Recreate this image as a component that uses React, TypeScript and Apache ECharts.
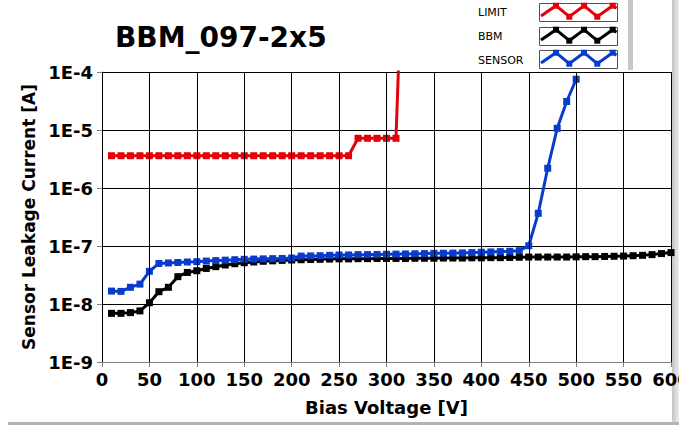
import React, { useEffect, useRef } from "react";
import * as echarts from "echarts";

const titleText = "BBM_097-2x5";
const xAxisName = "Bias Voltage [V]";
const yAxisName = "Sensor Leakage Current [A]";
const seriesNames = ["LIMIT", "BBM", "SENSOR"];
const seriesColors = ["#e4000a", "#000000", "#0a3ccc"];

const limitVolts = [10, 20, 30, 40, 50, 60, 70, 80, 90, 100, 110, 120, 130, 140, 150, 160, 170, 180, 190, 200, 210, 220, 230, 240, 250, 260, 270, 280, 290, 300, 310, 320];
const limitCurrent = [3.6e-6, 3.6e-6, 3.6e-6, 3.6e-6, 3.6e-6, 3.6e-6, 3.6e-6, 3.6e-6, 3.6e-6, 3.6e-6, 3.6e-6, 3.6e-6, 3.6e-6, 3.6e-6, 3.6e-6, 3.6e-6, 3.6e-6, 3.6e-6, 3.6e-6, 3.6e-6, 3.6e-6, 3.6e-6, 3.6e-6, 3.6e-6, 3.6e-6, 3.6e-6, 7.2e-6, 7.2e-6, 7.2e-6, 7.2e-6, 7.2e-6, 0.3];

const bbmVolts = [10, 20, 30, 40, 50, 60, 70, 80, 90, 100, 110, 120, 130, 140, 150, 160, 170, 180, 190, 200, 210, 220, 230, 240, 250, 260, 270, 280, 290, 300, 310, 320, 330, 340, 350, 360, 370, 380, 390, 400, 410, 420, 430, 440, 450, 460, 470, 480, 490, 500, 510, 520, 530, 540, 550, 560, 570, 580, 590, 600];
const bbmCurrent = [6.9e-9, 6.9e-9, 7.1e-9, 7.6e-9, 1.05e-8, 1.63e-8, 1.94e-8, 2.96e-8, 3.5e-8, 3.75e-8, 4.1e-8, 4.4e-8, 4.7e-8, 4.95e-8, 5.15e-8, 5.3e-8, 5.45e-8, 5.55e-8, 5.65e-8, 5.74e-8, 5.8e-8, 5.85e-8, 5.9e-8, 5.95e-8, 6.0e-8, 6.0e-8, 6.05e-8, 6.05e-8, 6.1e-8, 6.1e-8, 6.1e-8, 6.1e-8, 6.15e-8, 6.15e-8, 6.15e-8, 6.2e-8, 6.2e-8, 6.2e-8, 6.25e-8, 6.25e-8, 6.3e-8, 6.3e-8, 6.35e-8, 6.4e-8, 6.45e-8, 6.45e-8, 6.45e-8, 6.45e-8, 6.45e-8, 6.5e-8, 6.55e-8, 6.55e-8, 6.6e-8, 6.65e-8, 6.7e-8, 6.8e-8, 6.9e-8, 7.1e-8, 7.4e-8, 7.7e-8];

const sensorVolts = [10, 20, 30, 40, 50, 60, 70, 80, 90, 100, 110, 120, 130, 140, 150, 160, 170, 180, 190, 200, 210, 220, 230, 240, 250, 260, 270, 280, 290, 300, 310, 320, 330, 340, 350, 360, 370, 380, 390, 400, 410, 420, 430, 440, 450, 460, 470, 480, 490, 500];
const sensorCurrent = [1.67e-8, 1.65e-8, 1.94e-8, 2.2e-8, 3.66e-8, 5.0e-8, 5.1e-8, 5.2e-8, 5.3e-8, 5.37e-8, 5.5e-8, 5.6e-8, 5.7e-8, 5.8e-8, 5.9e-8, 5.95e-8, 6.0e-8, 6.05e-8, 6.1e-8, 6.2e-8, 6.7e-8, 6.75e-8, 6.8e-8, 6.9e-8, 7.0e-8, 7.0e-8, 7.1e-8, 7.1e-8, 7.15e-8, 7.2e-8, 7.25e-8, 7.3e-8, 7.35e-8, 7.4e-8, 7.5e-8, 7.5e-8, 7.55e-8, 7.6e-8, 7.7e-8, 7.8e-8, 7.9e-8, 8.0e-8, 8.1e-8, 8.3e-8, 1.01e-7, 3.66e-7, 2.19e-6, 1.07e-5, 3.1e-5, 7.5e-5];

const xMin = 0;
const xMax = 600;
const xInterval = 50;
const yMin = 1e-9;
const yMax = 1e-4;

const FONT = "DejaVu Sans";

function pairs(xs: number[], ys: number[]) {
  return xs.map((x, i) => [x, ys[i]]);
}

function legendGraphics() {
  const els: any[] = [];
  const boxTops = [3, 27, 50];
  const textYs = [12, 36, 60];
  els.push({
    type: "rect",
    shape: { x: 628, y: 0, width: 5, height: 70 },
    style: { fill: "#c8c8c8" },
    z: 1,
  });
  seriesNames.forEach((name, k) => {
    const t = boxTops[k];
    els.push({
      type: "text",
      x: 478,
      y: textYs[k],
      style: { text: name, fontFamily: FONT, fontSize: 11, fill: "#000", verticalAlign: "middle", align: "left" },
      z: 5,
    });
    els.push({
      type: "rect",
      shape: { x: 539.5, y: t + 0.5, width: 78, height: 18 },
      style: { fill: "#fff", stroke: "#505050", lineWidth: 1 },
      z: 5,
    });
    const pts = [
      [541, t + 13],
      [556, t + 2.7],
      [569.3, t + 13.7],
      [584, t + 2.7],
      [597.3, t + 13.7],
      [612.7, t + 2.7],
      [616.5, t + 5.3],
    ];
    els.push({
      type: "polyline",
      shape: { points: pts },
      style: { stroke: seriesColors[k], lineWidth: 3, fill: null },
      z: 6,
    });
    pts.slice(1, 6).forEach((p) => {
      els.push({
        type: "rect",
        shape: { x: p[0] - 3, y: p[1] - 3, width: 6, height: 6 },
        style: { fill: seriesColors[k] },
        z: 7,
      });
    });
  });
  return els;
}

export default function App() {
  const ref = useRef<HTMLDivElement>(null);
  useEffect(() => {
    if (!ref.current) return;
    const chart = echarts.init(ref.current, undefined, { renderer: "svg" });
    const seriesData = [
      pairs(limitVolts, limitCurrent),
      pairs(bbmVolts, bbmCurrent),
      pairs(sensorVolts, sensorCurrent),
    ];
    chart.setOption({
      animation: false,
      backgroundColor: "#ffffff",
      grid: { left: 102, right: 8, top: 72, bottom: 63, containLabel: false, outerBoundsMode: "none" },
      xAxis: {
        type: "value",
        min: xMin,
        max: xMax,
        interval: xInterval,
        name: xAxisName,
        nameLocation: "middle",
        nameGap: 36,
        nameTextStyle: { fontFamily: FONT, fontWeight: "bold", fontSize: 18, color: "#000" },
        axisLine: { show: true, lineStyle: { color: "#808080", width: 1 } },
        axisTick: { show: true, length: 5, lineStyle: { color: "#808080" } },
        axisLabel: { fontFamily: FONT, fontWeight: "bold", fontSize: 18, color: "#000", margin: 8, showMaxLabel: true, hideOverlap: false },
        splitLine: { show: true, lineStyle: { color: "#000", width: 1 } },
        z: 10,
      },
      yAxis: {
        type: "log",
        logBase: 10,
        min: yMin,
        max: yMax,
        name: yAxisName,
        nameLocation: "middle",
        nameGap: 60,
        nameTextStyle: { fontFamily: FONT, fontWeight: "bold", fontSize: 17, color: "#000" },
        axisLine: { show: true, lineStyle: { color: "#606060", width: 1 } },
        axisTick: { show: true, length: 5, lineStyle: { color: "#808080" } },
        axisLabel: {
          fontFamily: FONT,
          fontWeight: "bold",
          fontSize: 18,
          color: "#000",
          margin: 9,
          formatter: (v: number) => "1E" + Math.round(Math.log10(v)),
        },
        splitLine: { show: true, lineStyle: { color: "#000", width: 1 } },
        minorTick: { show: false },
      },
      series: seriesNames.map((name, k) => ({
        name,
        type: "line",
        data: seriesData[k],
        symbol: "rect",
        symbolSize: 7,
        showAllSymbol: true,
        clip: true,
        lineStyle: { color: seriesColors[k], width: 3 },
        itemStyle: { color: seriesColors[k] },
        z: 3 + (k === 1 ? 0 : k),
      })),
      graphic: [
        {
          type: "text",
          x: 115,
          y: 37,
          style: { text: titleText, fontFamily: FONT, fontWeight: "bold", fontSize: 28, fill: "#000", verticalAlign: "middle", align: "left" },
        },
        ...legendGraphics(),
        {
          type: "rect",
          shape: { x: 672, y: 0, width: 7, height: 425 },
          style: {
            fill: new echarts.graphic.LinearGradient(0, 0, 1, 0, [
              { offset: 0, color: "#c4c4c4" },
              { offset: 1, color: "#ececec" },
            ]),
          },
          z: 0,
        },
        {
          type: "rect",
          shape: { x: 8, y: 422, width: 671, height: 3 },
          style: { fill: "#b4b4b4" },
          z: 0,
        },
      ],
    });
    return () => chart.dispose();
  }, []);
  return <div ref={ref} style={{ position: "fixed", left: 0, top: 0, width: 679, height: 425 }} />;
}
